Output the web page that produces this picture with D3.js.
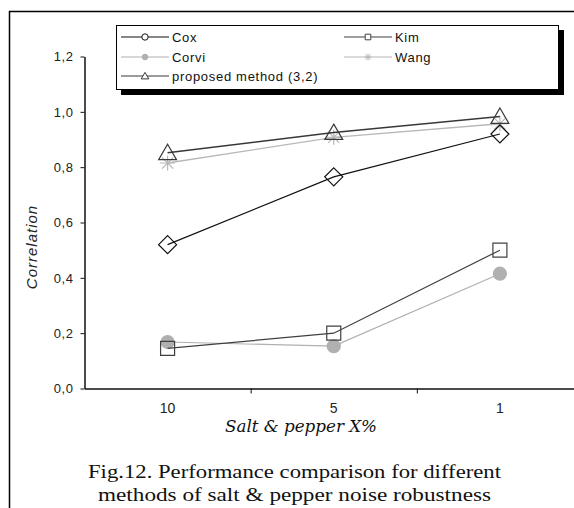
<!DOCTYPE html>
<html>
<head>
<meta charset="utf-8">
<script src="https://cdn.jsdelivr.net/npm/d3@7"></script>
<style>
	body { margin: 0; background: #fff; }
	svg { display: block; }
</style>
</head>
<body>
<script>
// chart data
var categories = ["10", "5", "1"];
var yTicks = [0, 0.2, 0.4, 0.6, 0.8, 1.0, 1.2];
var cox = [0.52, 0.765, 0.92];
var kim = [0.145, 0.2, 0.5];
var corvi = [0.168, 0.153, 0.415];
var wang = [0.815, 0.908, 0.957];
var proposed = [0.852, 0.925, 0.983];

var seriesNames = ["Cox", "Kim", "Corvi", "Wang", "proposed method (3,2)"];

window.onload = drawChart();

function drawChart(){

	var width = 574,
	height = 508;

	var sans = "'Liberation Sans', Arial, sans-serif",
	serif = "'Liberation Serif', 'Times New Roman', serif";

	var svg = d3.select("body")
		.append("svg")
		.attr("width", width)
		.attr("height", height);

	// outer frame (cropped at the right and bottom)
	svg.append("path")
		.attr("d", "M9.5," + height + "V11.5H" + width)
		.attr("fill", "none")
		.attr("stroke", "#000")
		.attr("stroke-width", 1.5);

	// scales
	var x = d3.scaleBand()
		.domain(categories)
		.range([84.5, 583]);

	var y = d3.scaleLinear()
		.domain([0, 1.2])
		.range([388.5, 56.5]);

	var comma = function(d){ return d3.format(".1f")(d).replace(".", ","); };

	// y axis
	var yAxis = svg.append("g")
		.attr("transform", "translate(84.5,0)")
		.call(d3.axisLeft(y).tickValues(yTicks).tickFormat(comma).tickSize(4).tickSizeOuter(0));
	yAxis.select(".domain").attr("stroke", "#111").attr("stroke-width", 1.5);
	yAxis.selectAll(".tick line").attr("stroke", "#111");
	yAxis.selectAll("text")
		.attr("x", -11)
		.style("font-family", sans)
		.style("font-size", "13px")
		.style("letter-spacing", "0.6px")
		.attr("fill", "#222");

	// x axis
	var xAxis = svg.append("g")
		.attr("transform", "translate(0,388.5)")
		.call(d3.axisBottom(x).tickSize(0).tickSizeOuter(0));
	xAxis.select(".domain").attr("stroke", "#111").attr("stroke-width", 1.5);
	xAxis.selectAll("text")
		.attr("y", 15)
		.style("font-family", sans)
		.style("font-size", "14px")
		.attr("fill", "#222");

	// ticks between categories
	xAxis.selectAll(".sep")
		.data(categories.slice(1))
		.enter()
		.append("line")
		.attr("class", "sep")
		.attr("x1", function(d){ return x(d) + 0.5; })
		.attr("x2", function(d){ return x(d) + 0.5; })
		.attr("y1", 0)
		.attr("y2", 5)
		.attr("stroke", "#111");

	// axis titles
	svg.append("text")
		.attr("transform", "translate(37,247) rotate(-90)")
		.attr("text-anchor", "middle")
		.style("font-family", sans)
		.style("font-style", "italic")
		.style("font-size", "15px")
		.style("letter-spacing", "1px")
		.attr("fill", "#222")
		.text("Correlation");

	svg.append("text")
		.attr("x", 225)
		.attr("y", 432)
		.attr("textLength", 152)
		.attr("lengthAdjust", "spacingAndGlyphs")
		.style("font-family", "'DejaVu Serif', serif")
		.style("font-style", "italic")
		.style("font-size", "16px")
		.attr("fill", "#111")
		.text("Salt & pepper X%");

	// caption
	var caption = svg.append("g")
		.style("font-family", serif)
		.style("font-size", "19px")
		.attr("fill", "#111");
	caption.append("text")
		.attr("x", 88).attr("y", 478)
		.attr("textLength", 413)
		.attr("lengthAdjust", "spacingAndGlyphs")
		.text("Fig.12. Performance comparison for different");
	caption.append("text")
		.attr("x", 98).attr("y", 501)
		.attr("textLength", 393)
		.attr("lengthAdjust", "spacingAndGlyphs")
		.text("methods of salt & pepper noise  robustness");

	// marker shapes
	function diamond(s){ return "M0," + (-s) + "L" + s + ",0L0," + s + "L" + (-s) + ",0Z"; }
	function square(s){ return "M" + (-s) + "," + (-s) + "h" + (2 * s) + "v" + (2 * s) + "h" + (-2 * s) + "Z"; }
	function triangle(s){ return "M0," + (-s) + "L" + (s * 1.05) + "," + (s * 0.8) + "H" + (-s * 1.05) + "Z"; }
	function asterisk(s){
		var k = s * 0.75;
		return "M" + (-k) + "," + (-k) + "L" + k + "," + k +
			"M" + (-k) + "," + k + "L" + k + "," + (-k) +
			"M0," + (-s) + "V" + s +
			"M" + (-s) + ",0H" + s;
	}
	function circle(s){ return d3.symbol(d3.symbolCircle, Math.PI * s * s)(); }

	var series = [
		{ name: seriesNames[3], values: wang, color: "#b8b8b8", width: 1.3, shape: asterisk, size: 7.5, small: 3.5, fill: "none" },
		{ name: seriesNames[2], values: corvi, color: "#b0b0b0", width: 1.2, shape: circle, size: 6.5, small: 2.8, fill: "#b0b0b0" },
		{ name: seriesNames[1], values: kim, color: "#404040", width: 1.2, shape: square, size: 7, small: 2.8, fill: "none" },
		{ name: seriesNames[0], values: cox, color: "#111", width: 1.2, shape: diamond, size: 9, small: 3.2, fill: "none" },
		{ name: seriesNames[4], values: proposed, color: "#383838", width: 1.5, shape: triangle, size: 8.5, small: 3.6, fill: "none" }
	];

	var line = d3.line()
		.x(function(d, i){ return x(categories[i]) + x.bandwidth() / 2; })
		.y(function(d){ return y(d); });

	var groups = svg.selectAll(".series")
		.data(series)
		.enter()
		.append("g")
		.attr("class", "series");

	groups.append("path")
		.attr("d", function(s){ return line(s.values); })
		.attr("fill", "none")
		.attr("stroke", function(s){ return s.color; })
		.attr("stroke-width", function(s){ return s.width; });

	groups.each(function(s){
		d3.select(this).selectAll(".mark")
			.data(s.values)
			.enter()
			.append("path")
			.attr("class", "mark")
			.attr("transform", function(d, i){
				return "translate(" + (x(categories[i]) + x.bandwidth() / 2) + "," + y(d) + ")";
			})
			.attr("d", s.shape(s.size))
			.attr("fill", s.fill)
			.attr("stroke", s.color)
			.attr("stroke-width", 1.2);
	});

	// legend
	var legend = svg.append("g");
	legend.append("rect")
		.attr("x", 121).attr("y", 30)
		.attr("width", 443).attr("height", 65)
		.attr("fill", "#000");
	legend.append("rect")
		.attr("x", 116.5).attr("y", 25.5)
		.attr("width", 442).attr("height", 64)
		.attr("fill", "#fff")
		.attr("stroke", "#000");

	var legendItems = [
		{ s: series[3], x: 121, y: 37 },
		{ s: series[2], x: 344, y: 37 },
		{ s: series[1], x: 121, y: 57 },
		{ s: series[0], x: 344, y: 57 },
		{ s: series[4], x: 121, y: 76 }
	];

	var items = legend.selectAll(".item")
		.data(legendItems)
		.enter()
		.append("g")
		.attr("class", "item")
		.attr("transform", function(d){ return "translate(" + d.x + "," + d.y + ")"; });

	items.append("line")
		.attr("x1", 0).attr("x2", 48)
		.attr("stroke", function(d){ return d.s.color; })
		.attr("stroke-width", 1.2);

	items.append("path")
		.attr("transform", "translate(24,0)")
		.attr("d", function(d){ return d.s.shape === diamond ? circle(d.s.small) : d.s.shape(d.s.small); })
		.attr("fill", function(d){ return d.s.shape === circle ? d.s.fill : "#fff"; })
		.attr("stroke", function(d){ return d.s.color; })
		.attr("stroke-width", 1);

	items.append("text")
		.attr("x", 51)
		.attr("dy", "0.35em")
		.style("font-family", sans)
		.style("font-size", "13px")
		.style("letter-spacing", "0.7px")
		.attr("fill", "#111")
		.text(function(d){ return d.s.name; });
};
</script>
</body>
</html>
